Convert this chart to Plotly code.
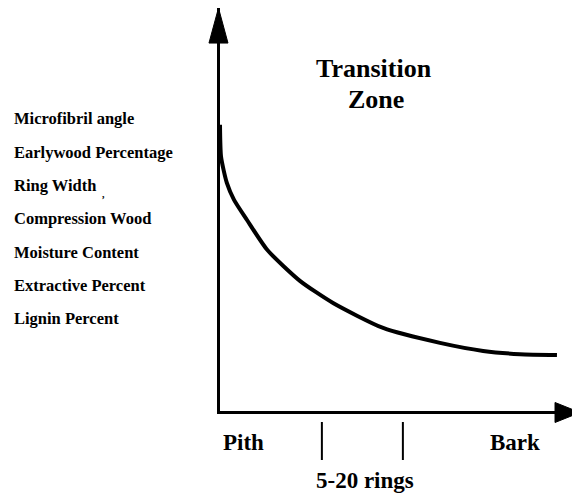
import plotly.graph_objects as go

# Relative radial position from pith (0) to bark (100)
position = [0, 0.3, 1.9, 3.9, 7.5, 13.1, 22.2, 31.4, 45.3, 61.1, 73.1, 83.3, 93.6]
# Relative property value (arbitrary units)
value = [71.0, 63.0, 56.6, 52.4, 47.4, 40.0, 32.3, 26.8, 20.6, 16.9, 14.9, 14.1, 13.9]

properties = [
    "Microfibril angle",
    "Earlywood Percentage",
    "Ring Width",
    "Compression Wood",
    "Moisture Content",
    "Extractive Percent",
    "Lignin Percent",
]

zone_bounds = [28.3, 50.8]
axis_labels = ["Pith", "Bark"]
axis_label_pos = [6.5, 81.9]

FONT = "Liberation Serif, Times New Roman, serif"

fig = go.Figure()
fig.add_trace(go.Scatter(
    x=position, y=value, mode="lines",
    line=dict(color="black", width=4, shape="spline", smoothing=0.6),
    hoverinfo="skip", showlegend=False,
))

annotations = []
# property list on the left
for i, p in enumerate(properties):
    annotations.append(dict(
        text="<b>%s</b>" % p, xref="paper", yref="y",
        x=-0.578, y=72.5 - i * 8.27, xanchor="left", yanchor="middle",
        showarrow=False, font=dict(family=FONT, size=16.5, color="black"),
    ))
# small mark after Ring Width
annotations.append(dict(
    text="<b>,</b>", xref="paper", yref="y", x=-0.325, y=53.6,
    xanchor="center", yanchor="middle", showarrow=False,
    font=dict(family=FONT, size=10, color="black"),
))
# Transition zone title
annotations.append(dict(
    text="<b>Transition</b>", xref="x", yref="y", x=42.8, y=85.0,
    xanchor="center", yanchor="middle", showarrow=False,
    font=dict(family=FONT, size=26, color="black"),
))
annotations.append(dict(
    text="<b>Zone</b>", xref="x", yref="y", x=43.3, y=77.3,
    xanchor="center", yanchor="middle", showarrow=False,
    font=dict(family=FONT, size=26, color="black"),
))
# Pith / Bark
for lab, xp in zip(axis_labels, axis_label_pos):
    annotations.append(dict(
        text="<b>%s</b>" % lab, xref="x", yref="paper", x=xp, y=-0.078,
        xanchor="center", yanchor="middle", showarrow=False,
        font=dict(family=FONT, size=23, color="black"),
    ))
annotations.append(dict(
    text="<b>5-20 rings</b>", xref="x", yref="paper",
    x=(zone_bounds[0] + zone_bounds[1]) / 2 + 0.7, y=-0.172,
    xanchor="center", yanchor="middle", showarrow=False,
    font=dict(family=FONT, size=23, color="black"),
))

shapes = []
for zb in zone_bounds:
    shapes.append(dict(
        type="line", xref="x", yref="paper", x0=zb, x1=zb,
        y0=-0.0273, y1=-0.1216, line=dict(color="black", width=2),
    ))
# axis arrowheads
shapes.append(dict(
    type="path", xref="paper", yref="paper",
    path="M -0.0042,1.0 L -0.0306,0.913 L 0.0222,0.913 Z",
    fillcolor="black", line=dict(color="black", width=1),
))
shapes.append(dict(
    type="path", xref="paper", yref="paper",
    path="M 1.0,-0.0037 L 0.9306,0.0211 L 0.9306,-0.0285 Z",
    fillcolor="black", line=dict(color="black", width=1),
))

axis_common = dict(
    showline=True, linewidth=3, linecolor="black", showgrid=False,
    zeroline=False, showticklabels=False, ticks="", range=[0, 100],
    fixedrange=True,
)

# The page body adds an 8px margin, so the figure is 8px smaller and offset.
fig.update_layout(
    width=572, height=486,
    margin=dict(l=212, r=0, t=0, b=83, pad=0),
    paper_bgcolor="white", plot_bgcolor="white",
    xaxis=axis_common, yaxis=axis_common,
    annotations=annotations, shapes=shapes,
    showlegend=False,
)

fig.write_html("out.html")
